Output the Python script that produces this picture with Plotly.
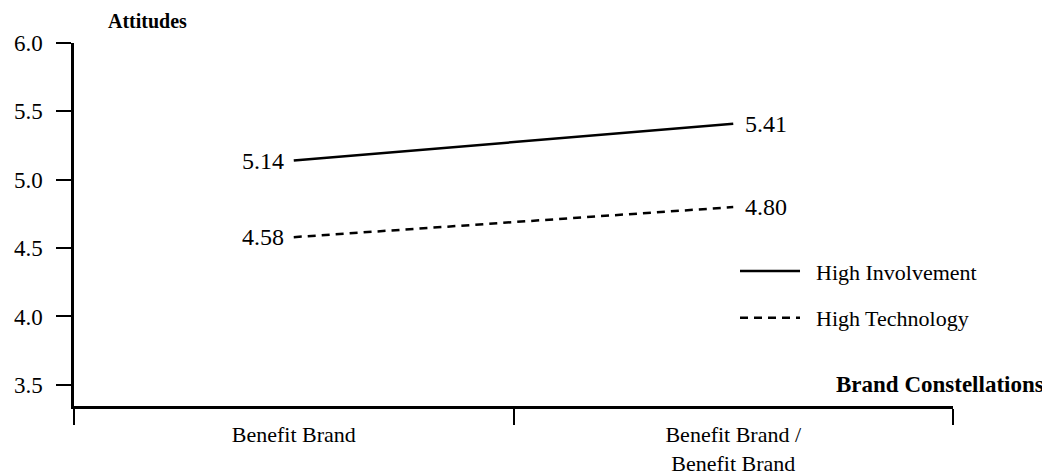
import plotly.graph_objects as go

categories = ["Benefit Brand", "Benefit Brand /<br>Benefit Brand"]
high_involvement = [5.14, 5.41]
high_technology = [4.58, 4.80]
y_ticks = [3.5, 4.0, 4.5, 5.0, 5.5, 6.0]
y_tick_labels = ["3.5", "4.0", "4.5", "5.0", "5.5", "6.0"]

FONT = "Liberation Serif"
NB = "\u00a0\u00a0"

fig = go.Figure()
fig.add_trace(go.Scatter(
    x=categories, y=high_involvement, name=NB + "High Involvement",
    mode="lines", line=dict(color="black", width=2.5),
    legendgroup="a",
))
fig.add_trace(go.Scatter(
    x=categories, y=high_technology, name=NB + "High Technology",
    mode="lines", line=dict(color="black", width=2.5, dash="8px,6px"),
    legendgroup="b",
))

annotations = []
for series in (high_involvement, high_technology):
    for i, (cat, v) in enumerate(zip(categories, series)):
        annotations.append(dict(
            x=cat, y=v, xref="x", yref="y", text=f"{v:.2f}", showarrow=False,
            xanchor="right" if i == 0 else "left", yanchor="middle",
            xshift=-8 if i == 0 else 10,
            font=dict(family=FONT, size=24, color="black")))

annotations += [
    dict(text="<b>Attitudes</b>", xref="paper", yref="paper",
         x=0.084, y=1.06, xanchor="center", yanchor="middle",
         showarrow=False, font=dict(family=FONT, size=20, color="black")),
    dict(text="<b>Brand Constellations</b>", xref="paper", yref="paper",
         x=1.106, y=0.058, xanchor="right", yanchor="middle",
         showarrow=False, font=dict(family=FONT, size=23, color="black")),
]

fig.update_layout(
    width=1050, height=474,
    margin=dict(l=66, r=105, t=35, b=76),
    paper_bgcolor="white", plot_bgcolor="white",
    font=dict(family=FONT, size=20, color="black"),
    showlegend=True,
    legend=dict(x=0.752, y=0.429, xanchor="left", yanchor="top",
                font=dict(family=FONT, size=22, color="black"),
                tracegroupgap=15, bgcolor="rgba(0,0,0,0)", itemwidth=60),
    xaxis=dict(type="category", tickson="boundaries", ticks="outside",
               ticklen=16, tickwidth=2, tickcolor="black", automargin=False,
               showline=True, linecolor="black", linewidth=2.5,
               showgrid=False, zeroline=False, range=[-0.5, 1.5],
               ticklabelstandoff=7,
               tickfont=dict(family=FONT, size=22, color="black")),
    yaxis=dict(range=[3.345, 6.0], tickvals=y_ticks, ticktext=y_tick_labels,
               ticks="outside", ticklen=15, tickwidth=2, tickcolor="black",
               showline=True, linecolor="black", linewidth=2.5, automargin=False,
               showgrid=False, zeroline=False, ticklabelstandoff=9,
               tickfont=dict(family=FONT, size=23, color="black")),
    annotations=annotations,
)

fig.write_html("out.html")
